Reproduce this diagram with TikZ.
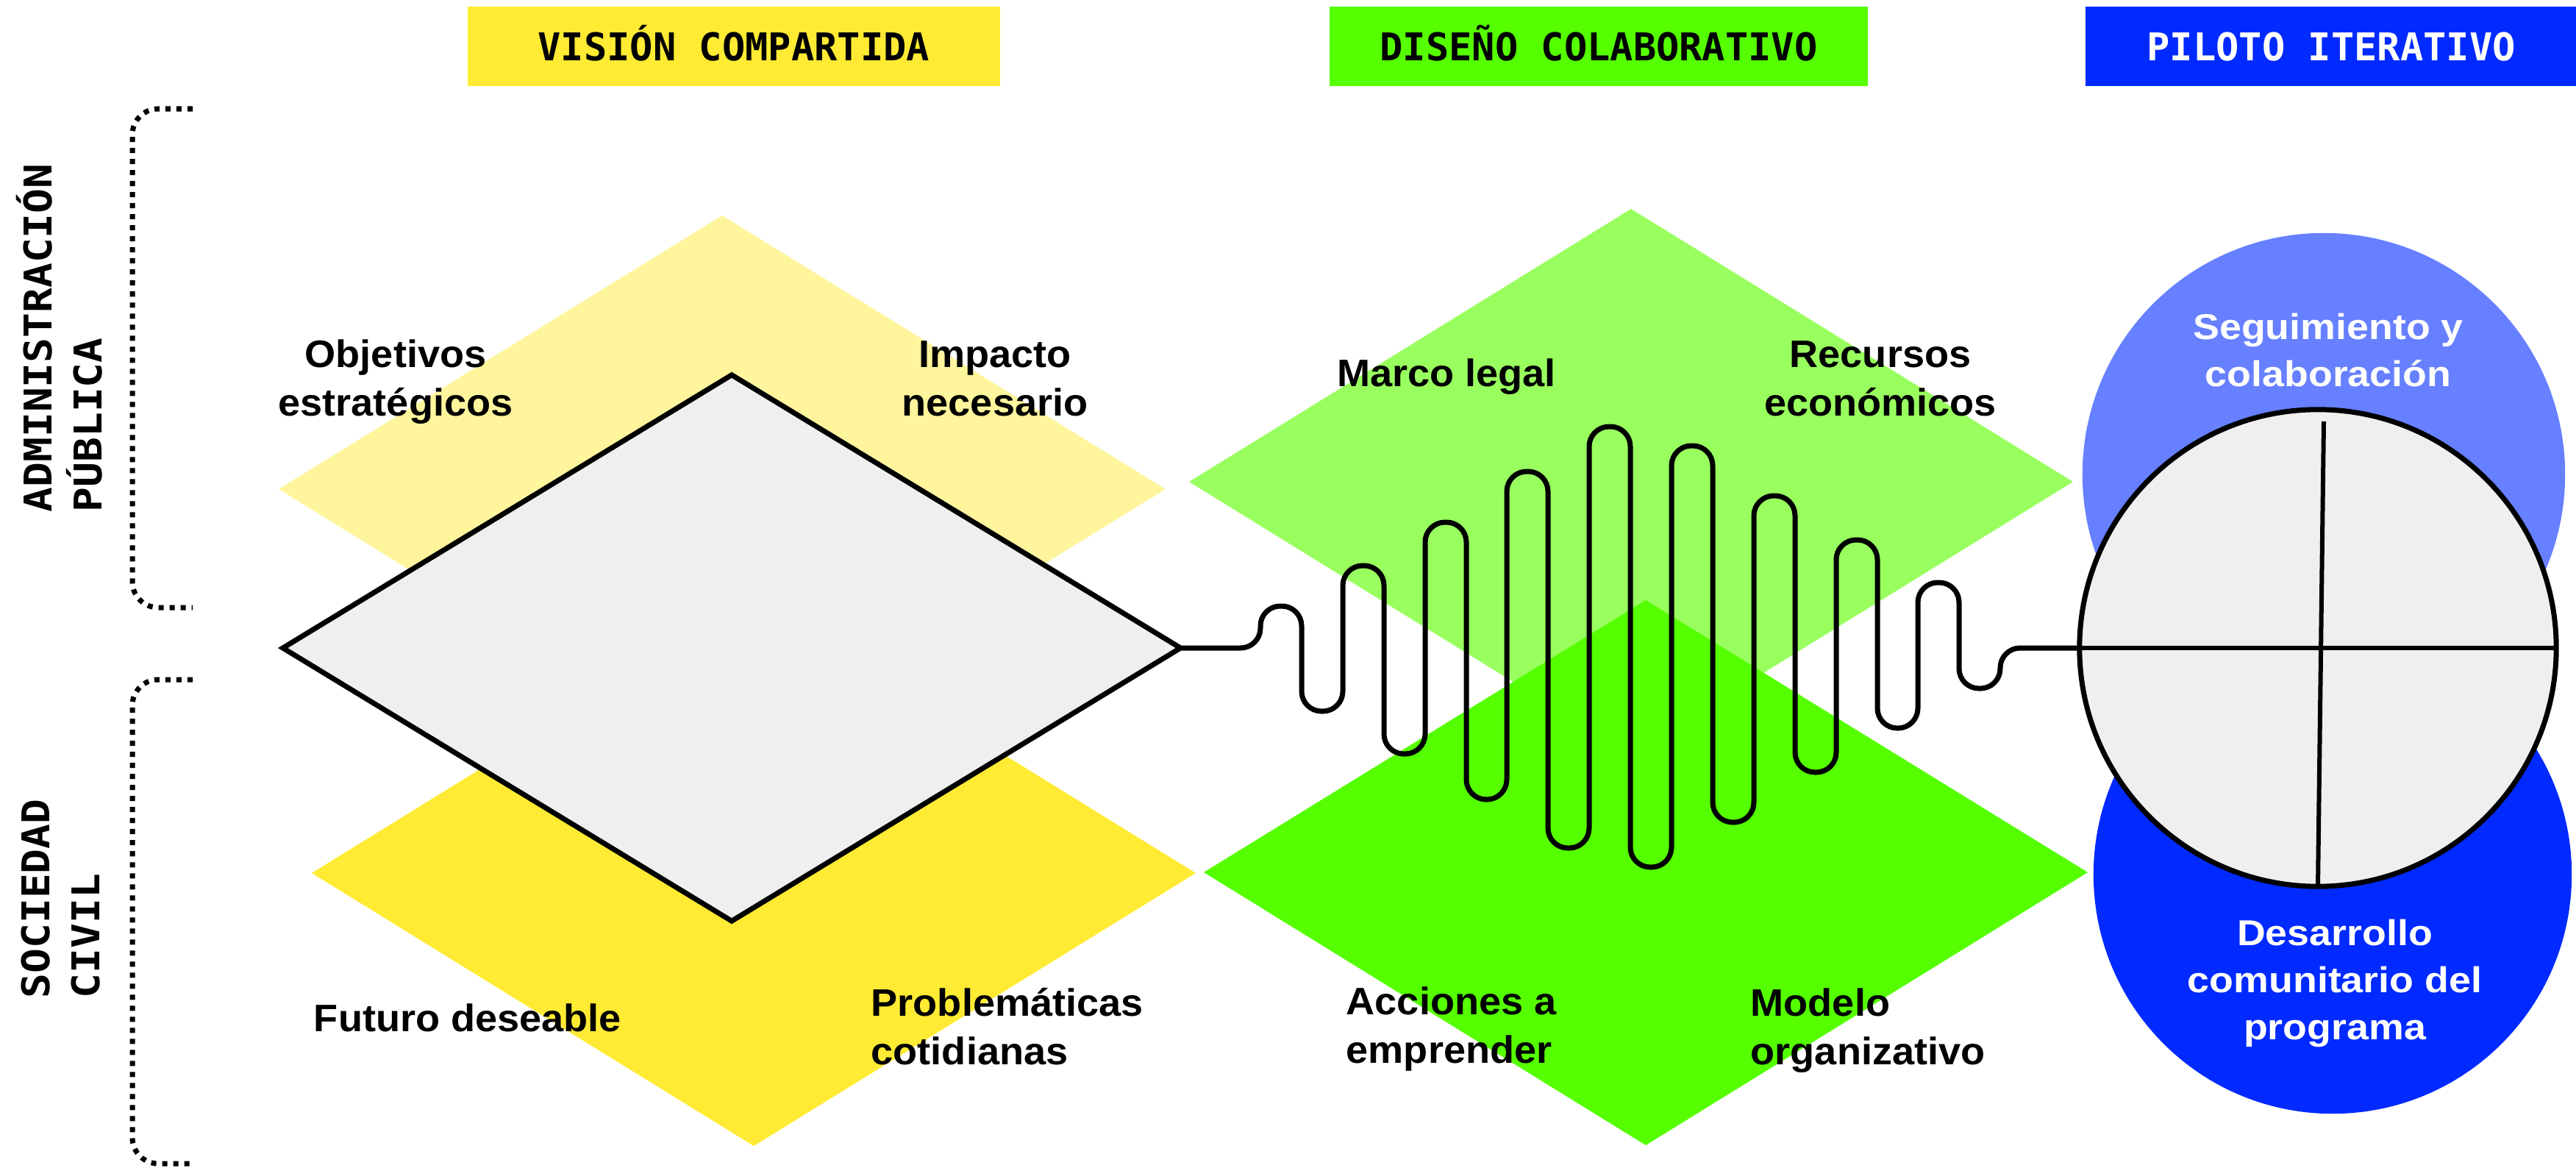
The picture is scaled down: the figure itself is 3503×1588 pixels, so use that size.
\documentclass[tikz,border=0pt]{standalone}
\usepackage{fontspec}
\usepackage{tikz}
\usetikzlibrary{shapes.geometric}
\newfontfamily\headfont{DejaVu Sans Mono}
\newfontfamily\sidefont[FakeStretch=1.08]{DejaVu Sans Mono}
\newfontfamily\labelfont[FakeStretch=1.04]{Liberation Sans}
\newfontfamily\circfont[FakeStretch=1.1]{Liberation Sans}
\definecolor{visyellow}{HTML}{FFEB33}
\definecolor{vislight}{HTML}{FFF59D}
\definecolor{disgreen}{HTML}{55FF00}
\definecolor{dislight}{HTML}{99FF5F}
\definecolor{pilblue}{HTML}{002AFF}
\definecolor{pillight}{HTML}{6680FF}
\definecolor{core}{HTML}{EFEFEF}

\begin{document}
\begin{tikzpicture}[x=0.01cm,y=-0.01cm,
  header/.style={minimum height=1.07cm, inner sep=0, text height=0.38cm, text depth=0cm,
    font=\headfont\bfseries\fontsize{14.8}{19}\selectfont},
  sidetxt/.style={rotate=90, anchor=base west, align=left, inner sep=0,
    font=\sidefont\bfseries\fontsize{14.8}{19.1}\selectfont},
  brace/.style={line width=0.07cm, dash pattern=on 0.07cm off 0.08cm, rounded corners=0.35cm},
  lbl/.style={inner sep=0, font=\labelfont\bfseries\fontsize{14.8}{18.5}\selectfont},
  circlabel/.style={inner sep=0, text=white, align=center,
    font=\circfont\bfseries\fontsize{13.9}{18.2}\selectfont},
  wire/.style={line width=0.07cm}]
\useasboundingbox (0,0) rectangle (3503,1588);
% draws header boxes
\node[header, fill=visyellow, minimum width=7.23cm] (hVis) at (998,63) {VISIÓN COMPARTIDA};
\node[header, fill=disgreen, minimum width=7.31cm] (hDis) at (2174,63) {DISEÑO COLABORATIVO};
\node[header, fill=pilblue, text=white, minimum width=6.67cm] (hPil) at (3170,63) {PILOTO ITERATIVO};
% side labels and braces
\node[sidetxt] (admin) at (138,697) {ADMINISTRACIÓN\\PÚBLICA};
\node[sidetxt] (soc) at (135,1358) {SOCIEDAD\\CIVIL};
\draw[brace] (262,148) -- (180,148) -- (180,826) -- (262,826);
\draw[brace] (262,924) -- (180,924) -- (180,1582) -- (262,1582);
% coloured diamonds
\fill[vislight] (379,665) -- (982,293) -- (1585,665) -- (982,1037) -- cycle;
\fill[visyellow] (424,1187) -- (1025,816) -- (1626,1187) -- (1025,1558) -- cycle;
\fill[dislight] (1617,655) -- (2218,284) -- (2819,655) -- (2218,1026) -- cycle;
\fill[disgreen] (1637,1186) -- (2238,816) -- (2839,1186) -- (2238,1557) -- cycle;
\node[diamond, draw, line width=0.07cm, fill=core, minimum width=12.2cm, minimum height=7.42cm,
  inner sep=0, outer sep=0] (vis) at (995,881) {};
% circles
\fill[pillight] (3160,645) circle[radius=3.28cm];
\fill[pilblue] (3172,1189) circle[radius=3.25cm];
\node[circle, draw, line width=0.07cm, fill=core, minimum size=6.48cm,
  inner sep=0, outer sep=0] (pil) at (3152,881) {};
\coordinate (pilTop) at (3160,573);
\draw[line width=0.06cm] (pil.west) -- (pil.east);
\draw[line width=0.06cm] (pilTop) -- (pil.south);
% the wave between diamond and circle
\draw[wire, rounded corners=0.27cm] (vis.east) -- (1714,881) -- (1714,824) -- (1770,824)
  -- (1770,967) -- (1826,967) -- (1826,769) -- (1882,769) -- (1882,1025) -- (1938,1025)
  -- (1938,710) -- (1994,710) -- (1994,1087) -- (2049,1087) -- (2049,641) -- (2105,641)
  -- (2105,1153) -- (2161,1153) -- (2161,580) -- (2217,580) -- (2217,1179) -- (2273,1179)
  -- (2273,606) -- (2329,606) -- (2329,1118) -- (2385,1118) -- (2385,674) -- (2441,674)
  -- (2441,1050) -- (2497,1050) -- (2497,734) -- (2553,734) -- (2553,990) -- (2608,990)
  -- (2608,792) -- (2664,792) -- (2664,936) -- (2720,936) -- (2720,881) -- (pil.west);
% labels
\node[lbl, align=center, anchor=base] (obj) at (538,565) {Objetivos\\estratégicos};
\node[lbl, align=center, anchor=base] (imp) at (1353,565) {Impacto\\necesario};
\node[lbl, anchor=base] (marco) at (1967,525) {Marco legal};
\node[lbl, align=center, anchor=base] (recur) at (2557,565) {Recursos\\económicos};
\node[lbl, anchor=base] (fut) at (636,1402) {Futuro deseable};
\node[lbl, align=left, anchor=base west] (prob) at (1184,1447) {Problemáticas\\cotidianas};
\node[lbl, align=left, anchor=base west] (acc) at (1830,1445) {Acciones a\\emprender};
\node[lbl, align=left, anchor=base west] (mod) at (2380,1447) {Modelo\\organizativo};
\node[circlabel, anchor=base] (seg) at (3166,525) {Seguimiento y\\colaboración};
\node[circlabel, anchor=base] (des) at (3175,1413) {Desarrollo\\comunitario del\\programa};
\end{tikzpicture}
\end{document}
